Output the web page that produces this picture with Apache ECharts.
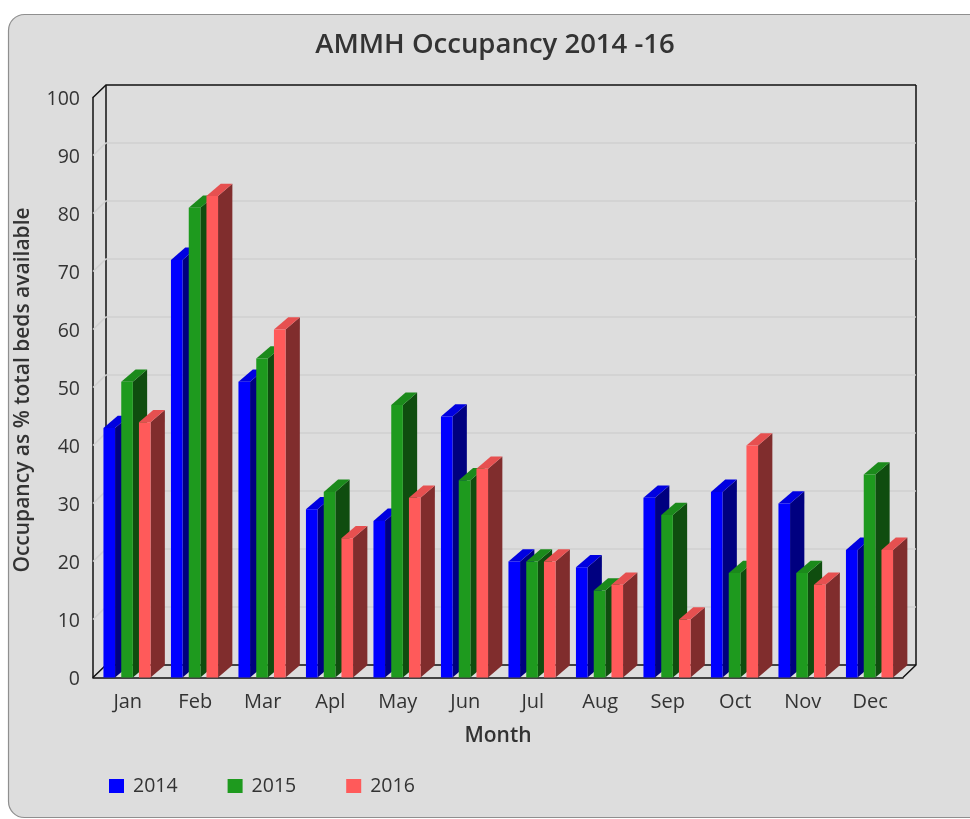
<!DOCTYPE html>
<html>
<head>
<meta charset="utf-8">
<style>
  html, body { margin: 0; padding: 0; background: #fff; overflow: hidden; }
  #chart { width: 970px; height: 819px; }
</style>
<script src="https://cdn.jsdelivr.net/npm/echarts@6/dist/echarts.min.js"></script>
</head>
<body>
<div id="chart"></div>
<script>
// values
var months = ['Jan', 'Feb', 'Mar', 'Apl', 'May', 'Jun', 'Jul', 'Aug', 'Sep', 'Oct', 'Nov', 'Dec'];
var occ2014 = [43, 72, 51, 29, 27, 45, 20, 19, 31, 32, 30, 22];
var occ2015 = [51, 81, 55, 32, 47, 34, 20, 15, 28, 18, 18, 35];
var occ2016 = [44, 83, 60, 24, 31, 36, 20, 16, 10, 40, 16, 22];
var yTicks = [0, 10, 20, 30, 40, 50, 60, 70, 80, 90, 100];

var depthX = 13;
var depthY = 12.5;
var barW = 11.6;
var barDepth = 14.3;
var barRise = 12.3;

function poly(points, fill) {
    return { type: 'polygon', shape: { points: points }, style: { fill: fill } };
}

// fake 3d column: front face, side and top
function columnRenderer(offset, front, side, top) {
    return function (params, api) {
        var p = api.coord([api.value(0), api.value(1)]);
        var base = api.coord([api.value(0), 0]);
        var x0 = p[0] + offset - barW / 2;
        var x1 = x0 + barW;
        return {
            type: 'group',
            children: [
                poly([[x1, p[1]], [x1 + barDepth, p[1] - barRise], [x1 + barDepth, base[1] - barRise], [x1, base[1]]], side),
                poly([[x0, p[1]], [x0 + barDepth, p[1] - barRise], [x1 + barDepth, p[1] - barRise], [x1, p[1]]], top),
                poly([[x0, p[1]], [x1, p[1]], [x1, base[1]], [x0, base[1]]], front)
            ]
        };
    };
}

// back wall + floor, one call per y tick
function wallRenderer(params, api) {
    var tick = api.value(1);
    var rect = params.coordSys;
    var y = api.coord([0, tick])[1];
    var left = rect.x;
    var right = rect.x + rect.width;
    var edge = tick === 0 || tick === 100;
    var kids = [{
        type: 'polyline',
        shape: { points: [[left, y], [left + depthX, y - depthY], [right + depthX, y - depthY]] },
        style: { stroke: edge ? '#111' : '#d0d0d0', lineWidth: 1.5, fill: null }
    }];
    if (tick === 0) {
        kids.push({
            type: 'polyline',
            shape: { points: [[right, y], [right + depthX, y - depthY], [right + depthX, rect.y - depthY]] },
            style: { stroke: '#111', lineWidth: 1.5, fill: null }
        });
        kids.push({
            type: 'line',
            shape: { x1: left + depthX, y1: y - depthY, x2: left + depthX, y2: rect.y - depthY },
            style: { stroke: '#111', lineWidth: 1.5 }
        });
    }
    return { type: 'group', children: kids };
}

function toPairs(values) {
    return values.map(function (v, i) { return [i, v]; });
}

var nameFont = { fontFamily: 'Open Sans', fontSize: 21, fontWeight: 600, color: '#333' };

var chart = echarts.init(document.getElementById('chart'), null, { renderer: 'canvas' });
chart.setOption({
    animation: false,
    backgroundColor: '#fff',
    graphic: [{
        type: 'rect',
        z: -10,
        silent: true,
        shape: { x: 8.5, y: 14.5, width: 990, height: 803, r: 16 },
        style: { fill: '#dddddd', stroke: '#8f8f8f', lineWidth: 1.2 }
    }],
    title: {
        text: 'AMMH Occupancy 2014 -16',
        left: 490,
        top: 26,
        textAlign: 'center',
        textStyle: { fontFamily: 'Open Sans', fontSize: 27.5, fontWeight: 600, color: '#333' }
    },
    legend: {
        left: 104,
        top: 771,
        icon: 'rect',
        itemWidth: 15,
        itemHeight: 14,
        itemGap: 50,
        data: ['2014', '2015', '2016'],
        textStyle: { fontFamily: 'Open Sans', fontSize: 19.5, color: '#333', padding: [0, 0, 0, 4] }
    },
    grid: { left: 93, right: 67, top: 97.5, bottom: 141.5, outerBoundsMode: 'none' },
    xAxis: {
        type: 'category',
        data: months,
        name: 'Month',
        nameLocation: 'middle',
        nameGap: 48,
        nameTextStyle: nameFont,
        axisLine: { lineStyle: { color: '#111', width: 1.5 } },
        axisTick: { show: false },
        axisLabel: { margin: 15, padding: [0, 0, 0, 2], fontFamily: 'Open Sans', fontSize: 20, color: '#333' }
    },
    yAxis: {
        type: 'value',
        min: 0,
        max: 100,
        interval: 10,
        name: 'Occupancy as % total beds available',
        nameLocation: 'middle',
        nameGap: 59,
        nameTextStyle: Object.assign({ padding: [0, 5, 0, 0] }, nameFont),
        axisLine: { show: true, lineStyle: { color: '#111', width: 1.5 } },
        axisTick: { show: false },
        splitLine: { show: false },
        // labels sit a little below the tick in the original
        axisLabel: { margin: 13, verticalAlign: 'top', lineHeight: 4, fontFamily: 'Open Sans', fontSize: 19.5, color: '#333' }
    },
    series: [
        {
            type: 'custom',
            name: 'wall',
            z: 1,
            silent: true,
            clip: false,
            renderItem: wallRenderer,
            encode: { x: 0, y: 1 },
            data: yTicks.map(function (t) { return [0, t]; })
        },
        {
            type: 'custom',
            name: '2014',
            z: 2,
            clip: false,
            itemStyle: { color: '#0000ff' },
            renderItem: columnRenderer(-17.5, '#0000ff', '#000080', '#0000e0'),
            encode: { x: 0, y: 1 },
            data: toPairs(occ2014)
        },
        {
            type: 'custom',
            name: '2015',
            z: 3,
            clip: false,
            itemStyle: { color: '#1e9a1e' },
            renderItem: columnRenderer(0.3, '#1e9a1e', '#0f4d0f', '#1b8a1b'),
            encode: { x: 0, y: 1 },
            data: toPairs(occ2015)
        },
        {
            type: 'custom',
            name: '2016',
            z: 4,
            clip: false,
            itemStyle: { color: '#ff5a5a' },
            renderItem: columnRenderer(18, '#ff5a5a', '#802d2d', '#e65050'),
            encode: { x: 0, y: 1 },
            data: toPairs(occ2016)
        }
    ]
});
</script>
</body>
</html>
